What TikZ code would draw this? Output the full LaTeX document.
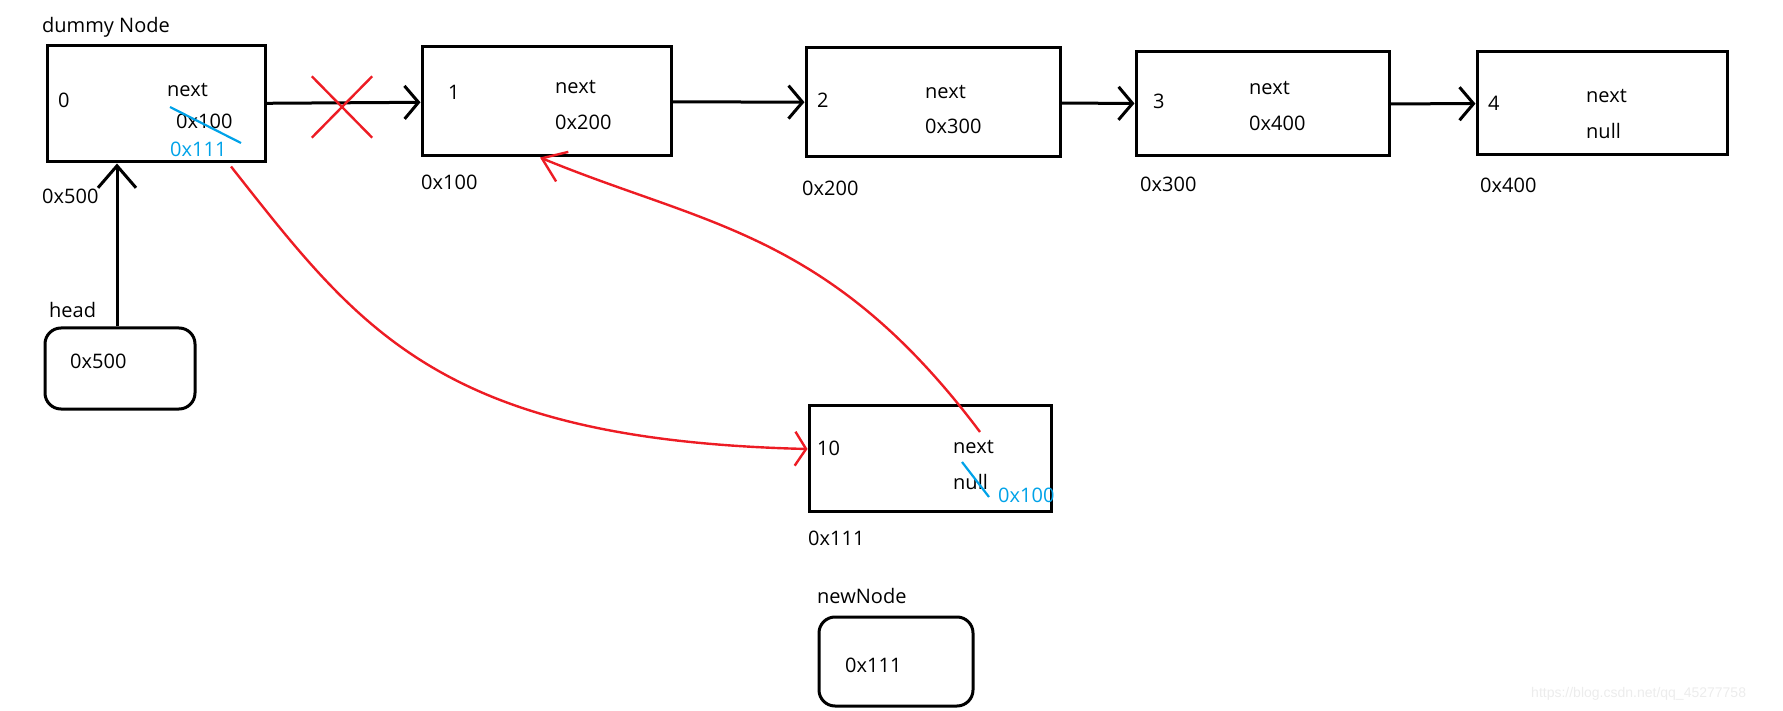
\documentclass[tikz,border=0pt]{standalone}
\usepackage{fontspec}
\setmainfont{Open Sans}
\newfontfamily\markfont{Liberation Sans}
\usetikzlibrary{arrows.meta,shapes.misc}
\definecolor{penred}{RGB}{237,28,36}
\definecolor{penblue}{RGB}{0,162,232}

\begin{document}
\begin{tikzpicture}
[
    x=1pt, y=-1pt,
    font=\fontsize{20}{24}\selectfont,
    box/.style={draw, line width=3pt, inner sep=0pt},
    ptrbox/.style={box, rounded corners=16pt},
    lbl/.style={anchor=base west, inner sep=0pt},
    link/.style={line width=3pt, -{Straight Barb[length=14pt,width=33pt]}},
    redlink/.style={penred, line width=2.4pt},
    strike/.style={penblue, line width=2.2pt},
]
\useasboundingbox (0,0) rectangle (1783,711);

\node[box, minimum width=218pt, minimum height=116pt] (dummy) at (156,104) {};
\node[box, minimum width=249pt, minimum height=109pt] (n1) at (546.5,101.5) {};
\node[box, minimum width=254pt, minimum height=109pt] (n2) at (933,102.5) {};
\node[box, minimum width=253pt, minimum height=104pt] (n3) at (1262.5,104) {};
\node[box, minimum width=250pt, minimum height=103pt] (n4) at (1602,103.5) {};
\node[ptrbox, minimum width=150pt, minimum height=81pt] (head) at (120,368.5) {};
\node[box, minimum width=242pt, minimum height=106pt] (new) at (930,458) {};
\node[ptrbox, minimum width=154pt, minimum height=89pt] (newptr) at (896,661.5) {};

\node[lbl] (dummy-title) at (42,33) {dummy Node};
\node[lbl] (dummy-val) at (58,108) {0};
\node[lbl] (dummy-next) at (167,97) {next};
\node[lbl] (dummy-old) at (176,129) {0x100};
\node[lbl, text=penblue] (dummy-new) at (170,157) {0x111};
\node[lbl] (dummy-addr) at (42,204) {0x500};

\node[lbl] (n1-val) at (448,100) {1};
\node[lbl] (n1-next) at (555,94) {next};
\node[lbl] (n1-ptr) at (555,130) {0x200};
\node[lbl] (n1-addr) at (421,190) {0x100};

\node[lbl] (n2-val) at (817,108) {2};
\node[lbl] (n2-next) at (925,99) {next};
\node[lbl] (n2-ptr) at (925,134) {0x300};
\node[lbl] (n2-addr) at (802,196) {0x200};

\node[lbl] (n3-val) at (1153,109) {3};
\node[lbl] (n3-next) at (1249,95) {next};
\node[lbl] (n3-ptr) at (1249,131) {0x400};
\node[lbl] (n3-addr) at (1140,192) {0x300};

\node[lbl] (n4-val) at (1488,111) {4};
\node[lbl] (n4-next) at (1586,103) {next};
\node[lbl] (n4-ptr) at (1586,139) {null};
\node[lbl] (n4-addr) at (1480,193) {0x400};

\node[lbl] (head-title) at (49,318) {head};
\node[lbl] (head-ptr) at (70,368) {0x500};

\node[lbl] (new-val) at (817,455) {10};
\node[lbl] (new-next) at (953,453) {next};
\node[lbl] (new-old) at (953,489) {null};
\node[lbl, text=penblue] (new-ptr) at (998,502) {0x100};
\node[lbl] (new-addr) at (808,545) {0x111};

\node[lbl] (newptr-title) at (817,603) {newNode};
\node[lbl] (newptr-val) at (845,672) {0x111};

\node[lbl, font=\markfont\fontsize{14}{16}\selectfont, text=gray!15] (mark) at (1531,697) {https://blog.csdn.net/qq\_45277758};

\draw[link] (dummy) -- (n1);
\draw[link] (n1) -- (n2);
\draw[link] (n2) -- (n3);
\draw[link] (n3) -- (n4);
\draw[link, -{Straight Barb[length=22pt,width=38pt]}] ([xshift=-3pt]head.north) -- ([xshift=-3pt]head.north |- dummy.south);

\node[cross out, draw=penred, line width=2.4pt, inner sep=0pt, minimum width=58pt, minimum height=59pt] (cut) at (342,107) {};
\draw[strike] (170,107) -- (241,143);
\draw[strike] (962,462) -- (989,497);

\coordinate (new-from) at (980,432);
\draw[redlink, -{Straight Barb[length=11pt,width=34pt]}] ([xshift=75pt,yshift=-3pt]dummy.south) .. controls (360,330) and (440,440) .. ([yshift=9pt]new.west);
\draw[redlink, -{Straight Barb[length=22pt,width=32pt]}] (new-from) .. controls (830,232) and (706,226) .. ([xshift=-6.5pt]n1.south);
\end{tikzpicture}
\end{document}
